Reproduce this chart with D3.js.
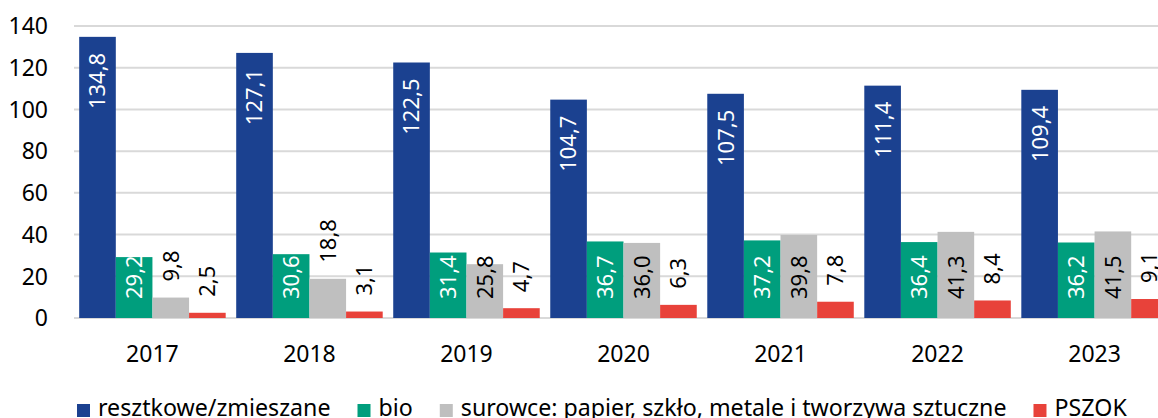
<!DOCTYPE html>
<html>
<head>
<meta charset="utf-8">
<script src="https://cdn.jsdelivr.net/npm/d3@7"></script>
<style>
  html, body { margin: 0; padding: 0; background: #fff; }
  svg { display: block; font-family: "Noto Sans", sans-serif; }
</style>
</head>
<body>
<svg id="chart" width="1158" height="418"></svg>
<script>
// data
const years = ["2017", "2018", "2019", "2020", "2021", "2022", "2023"];
const seriesNames = ["resztkowe/zmieszane", "bio", "surowce: papier, szkło, metale i tworzywa sztuczne", "PSZOK"];
const resztkowe = [134.8, 127.1, 122.5, 104.7, 107.5, 111.4, 109.4];
const bio = [29.2, 30.6, 31.4, 36.7, 37.2, 36.4, 36.2];
const surowce = [9.8, 18.8, 25.8, 36.0, 39.8, 41.3, 41.5];
const pszok = [2.5, 3.1, 4.7, 6.3, 7.8, 8.4, 9.1];
const yTicks = [0, 20, 40, 60, 80, 100, 120, 140];

const colors = ["#1b4190", "#009e7d", "#bfbfbf", "#e8423a"];
const labelColors = ["#fff", "#fff", "#000", "#000"];
const allSeries = [resztkowe, bio, surowce, pszok];

const svg = d3.select("#chart");

const x = d3.scaleBand().domain(years).range([74, 1173]).paddingInner(0.067).paddingOuter(0.033);
const xs = d3.scaleBand().domain(d3.range(4)).range([0, x.bandwidth()]);
const y = d3.scaleLinear().domain([0, 140]).range([318, 26]);

// gridlines
svg.append("g")
  .selectAll("line")
  .data(yTicks)
  .join("line")
  .attr("x1", 74).attr("x2", 1158)
  .attr("y1", d => y(d)).attr("y2", d => y(d))
  .attr("stroke", "#d9d9d9")
  .attr("stroke-width", 2);

// y axis labels
svg.append("g")
  .selectAll("text")
  .data(yTicks)
  .join("text")
  .attr("x", 48)
  .attr("y", d => y(d))
  .attr("dy", "0.36em")
  .attr("text-anchor", "end")
  .attr("font-size", 23)
  .attr("fill", "#000")
  .text(d => d);

// x axis labels
svg.append("g")
  .selectAll("text")
  .data(years)
  .join("text")
  .attr("x", d => x(d) + x.bandwidth() / 2)
  .attr("y", 362)
  .attr("text-anchor", "middle")
  .attr("font-size", 23)
  .attr("fill", "#000")
  .text(d => d);

// flatten bars
const bars = [];
allSeries.forEach((vals, s) => {
  vals.forEach((v, i) => bars.push({ year: years[i], s: s, v: v }));
});

const barG = svg.append("g");
barG.selectAll("rect")
  .data(bars)
  .join("rect")
  .attr("x", d => x(d.year) + xs(d.s))
  .attr("width", xs.bandwidth())
  .attr("y", d => y(d.v))
  .attr("height", d => y(0) - y(d.v))
  .attr("fill", d => colors[d.s]);

const fmt = v => v.toFixed(1).replace(".", ",");

// value labels, rotated
svg.append("g")
  .selectAll("text")
  .data(bars)
  .join("text")
  .attr("transform", d => {
    const cx = x(d.year) + xs(d.s) + xs.bandwidth() / 2;
    let ty;
    if (d.s === 0) ty = y(d.v) + 16;          // inside end
    else if (d.v >= 20) ty = y(0) - 19;       // inside base
    else ty = y(d.v) - 16;                    // outside end
    return "translate(" + cx + "," + ty + ") rotate(-90)";
  })
  .attr("text-anchor", d => d.s === 0 ? "end" : "start")
  .attr("dy", "0.36em")
  .attr("font-size", 22)
  .attr("fill", d => labelColors[d.s])
  .text(d => fmt(d.v));

// legend (flow layout)
const legend = svg.append("g");
let lx = 77;
seriesNames.forEach((name, i) => {
  legend.append("rect")
    .attr("x", lx).attr("y", 404)
    .attr("width", 13).attr("height", 13)
    .attr("fill", colors[i]);
  const t = legend.append("text")
    .attr("x", lx + 21)
    .attr("y", 416)
    .attr("font-size", 23.2)
    .attr("fill", "#000")
    .text(name);
  lx += 21 + t.node().getComputedTextLength() + 27;
});
</script>
</body>
</html>
